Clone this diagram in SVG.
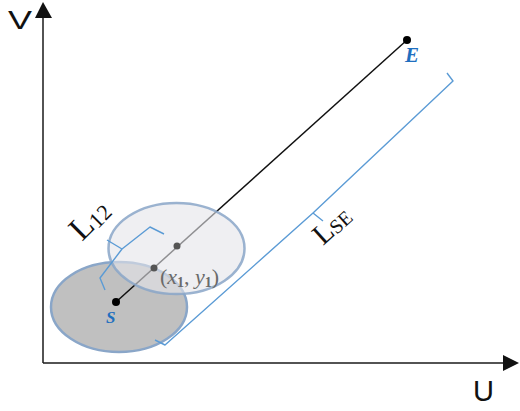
<svg xmlns="http://www.w3.org/2000/svg" width="520" height="411" viewBox="0 0 520 411">
<defs>
<style>
.axis{stroke:#1a1a1a;stroke-width:1.5;fill:none}
.axlbl{font-family:"Liberation Sans",Arial,sans-serif;fill:#111}
.brace{stroke:#5b9bd5;stroke-width:1.4;fill:none;stroke-linejoin:round}
.lbl{font-family:"Liberation Serif","Times New Roman",serif;fill:#111}
.pt{font-family:"Liberation Serif","Times New Roman",serif;font-style:italic;font-weight:bold;fill:#1f6fbf}
.ell{stroke:#8aa6c8;stroke-width:2.5}
</style>
</defs>
<rect width="520" height="411" fill="#fff"/>
<g id="axes">
<line class="axis" x1="43" y1="16" x2="43" y2="363"/>
<line class="axis" x1="43" y1="363" x2="505" y2="363"/>
<polygon points="43,2 35,18 52,18" fill="#111"/>
<polygon points="519,363 503,355 503,371" fill="#111"/>
<text class="axlbl" x="8" y="29" font-size="26" textLength="24" lengthAdjust="spacingAndGlyphs">V</text>
<text class="axlbl" x="473" y="401" font-size="29" textLength="21" lengthAdjust="spacingAndGlyphs">U</text>
</g>
<g id="circle1">
<ellipse class="ell" cx="119" cy="307" rx="68" ry="45" fill="#c0c0c0"/>
</g>
<g id="connectors">
<line x1="116" y1="302" x2="407" y2="40" stroke="#111" stroke-width="1.5"/>
</g>
<g id="circle2">
<ellipse class="ell" cx="176.5" cy="248.5" rx="68" ry="45.5" fill="#e4e4ea" fill-opacity="0.6" stroke-opacity="0.85"/>
</g>
<g id="brackets">
<path class="brace" d="M164,234 L150,227 L122,249 L107,240 M122,249 L100,278 L105,290"/>
<path class="brace" d="M447,73 L453,81 L313,213 L323,221 M313,213 L165,345 L155,340"/>
</g>
<g id="S">
<circle cx="116" cy="302" r="4" fill="#000"/>
<text class="pt" x="106" y="323" font-size="17">S</text>
</g>
<g id="E">
<circle cx="407" cy="40" r="4" fill="#000"/>
<text class="pt" x="405" y="62" font-size="21">E</text>
</g>
<g id="mid">
<circle cx="177" cy="246" r="3.5" fill="#555"/>
<circle cx="154" cy="268" r="3.5" fill="#555"/>
<text x="160" y="284" font-family="'Liberation Serif','Times New Roman',serif" font-size="22" fill="#6a6a6a">(<tspan font-style="italic">x</tspan><tspan font-size="14" font-weight="bold" dy="3">1</tspan><tspan dy="-3">,  </tspan><tspan font-style="italic">y</tspan><tspan font-size="14" font-weight="bold" dy="3">1</tspan><tspan dy="-3">)</tspan></text>
</g>
<g id="L12">
<text class="lbl" transform="translate(82,242) rotate(-45)" font-size="33">L<tspan font-size="22" dy="2">12</tspan></text>
</g>
<g id="LSE">
<text class="lbl" transform="translate(323,246) rotate(-42)" font-size="29">L<tspan font-size="20" dy="1">SE</tspan></text>
</g>
</svg>
